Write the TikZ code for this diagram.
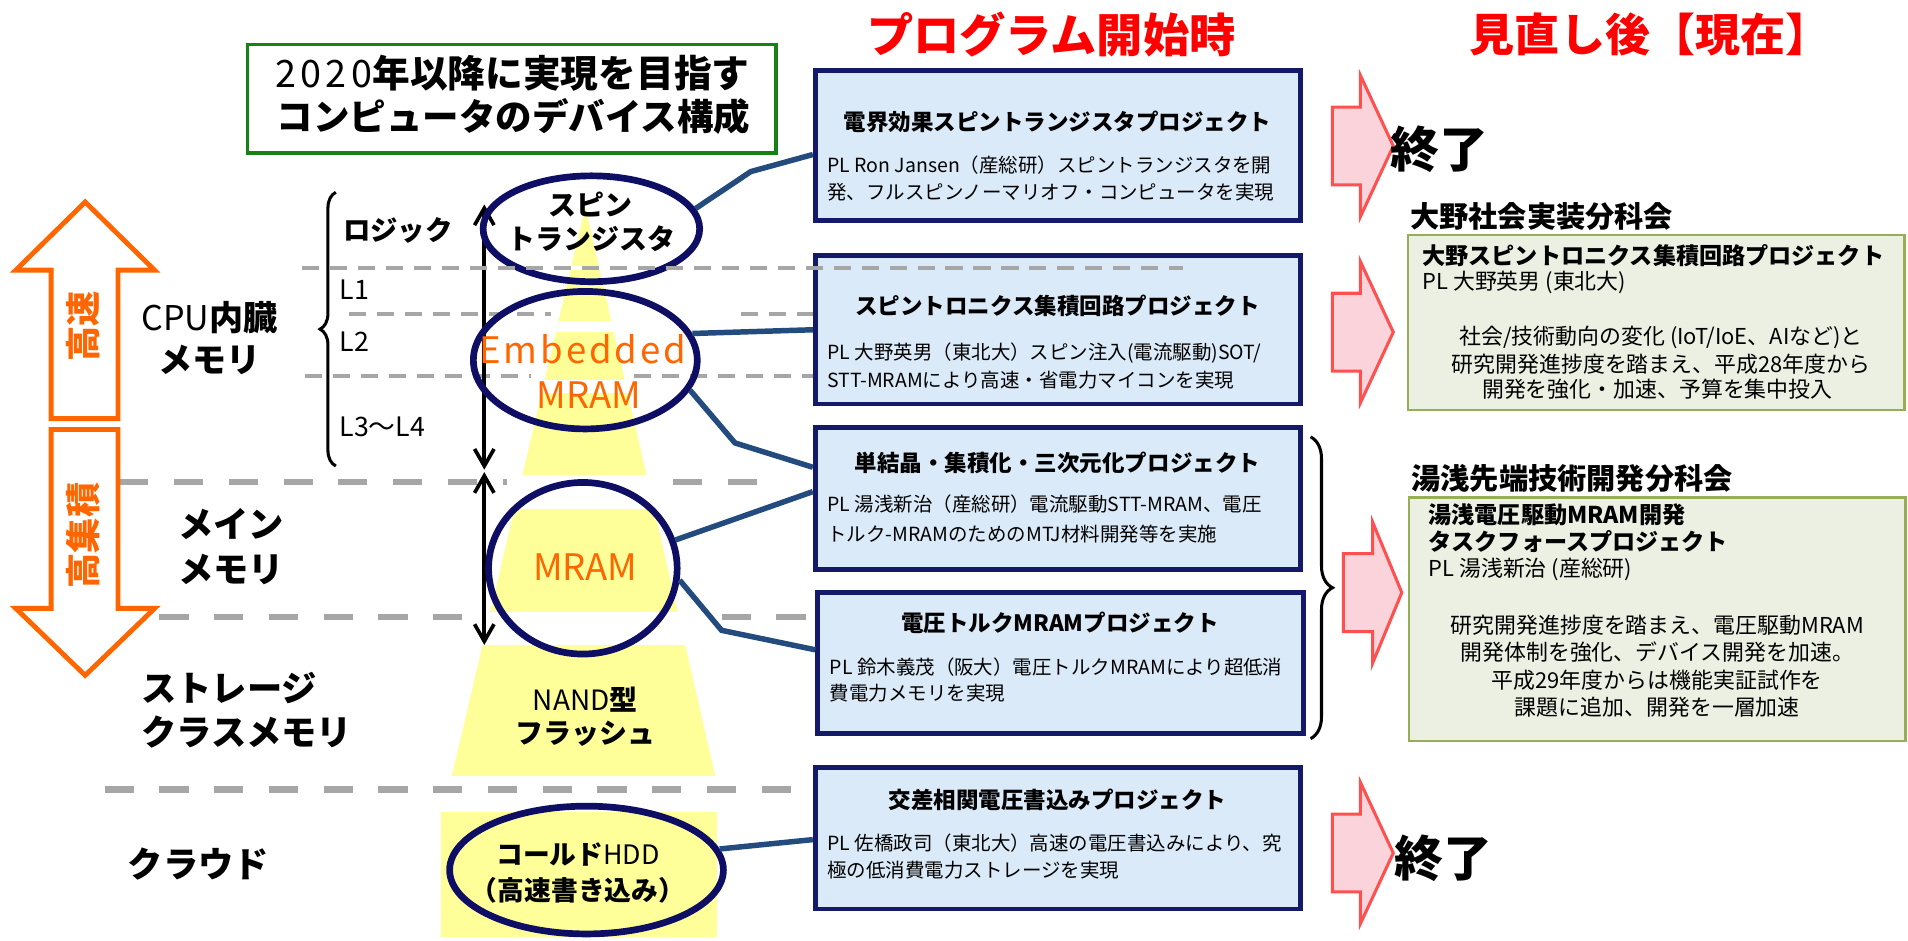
\documentclass[tikz,border=0pt]{standalone}
\usepackage{fontspec}
\setmainfont{Noto Sans CJK JP}
\usetikzlibrary{decorations.pathreplacing,shapes.geometric,arrows.meta}
\definecolor{navy}{RGB}{14,14,100}
\definecolor{boxline}{RGB}{20,25,105}
\definecolor{boxfill}{RGB}{218,234,248}
\definecolor{connc}{RGB}{35,75,125}
\definecolor{dgray}{RGB}{166,166,166}
\definecolor{orng}{RGB}{255,102,0}
\definecolor{yel}{RGB}{255,255,153}
\definecolor{pinkf}{RGB}{250,212,218}
\definecolor{pinkl}{RGB}{255,80,80}
\definecolor{gfill}{RGB}{236,240,226}
\definecolor{gline}{RGB}{150,175,85}
\definecolor{gbox}{RGB}{20,130,20}
\newcommand\myfz[1]{\fontsize{#1pt}{#1pt}\selectfont}
\begin{document}
\begin{tikzpicture}[x=1pt,y=-1pt,
 txt/.style={inner sep=0pt, outer sep=0pt},
 pbox/.style={draw=boxline, line width=4pt, fill=boxfill, minimum width=399pt, inner sep=0pt},
 gbx/.style={draw=gline, line width=2pt, fill=gfill, inner sep=0pt, minimum width=408pt},
 ell/.style={ellipse, draw=navy, line width=5.5pt, inner sep=0pt},
 conn/.style={draw=connc, line width=4.5pt},
 dashup/.style={draw=dgray, line width=3pt, dash pattern=on 14pt off 9pt},
 dashlo/.style={draw=dgray, line width=5.5pt, dash pattern=on 24pt off 21pt},
 orarr/.style={draw=orng, line width=4pt, fill=white, line join=miter},
 pkarr/.style={draw=pinkl, line width=2.5pt, fill=pinkf, line join=miter},
 dbl/.style={line width=3pt, {Straight Barb[length=14pt,width=16pt]}-{Straight Barb[length=14pt,width=16pt]}},
 ttl/.style={txt, font=\myfz{18.5}\bfseries},
 bdy/.style={txt, anchor=west, font=\myfz{16}},
 rbd/.style={txt, font=\myfz{18}},
 lab/.style={txt, font=\myfz{29}\bfseries},
]
\fill[white] (0,0) rectangle (1568,773);
\useasboundingbox (0,0) rectangle (1568,773);

% headings
\node[txt, text=red, font=\myfz{38}\bfseries] (h1) at (864,28) {プログラム開始時};
\node[txt, text=red, font=\myfz{37}\bfseries] (h2) at (1356,28) {見直し後【現在】};

% title box
\node[draw=gbox, line width=3pt, fill=white, minimum width=434pt, minimum height=89pt, inner sep=0pt] (gb) at (420.5,81) {};
\node[txt, font=\myfz{31}\bfseries] (gt1) at (421,60) {{\addfontfeatures{LetterSpace=12}\mdseries 2020}年以降に実現を目指す};
\node[txt, font=\myfz{30}\bfseries] (gt2) at (422,96) {コンピュータのデバイス構成};

% yellow pyramid
\begin{scope}
\clip (481,170) -- (371,639) -- (588,639) -- cycle;
\fill[yel] (300,170) rectangle (700,219);
\fill[yel] (300,222) rectangle (700,264);
\fill[yel] (300,273) rectangle (700,312);
\fill[yel] (300,323) rectangle (700,390);
\fill[yel] (300,418) rectangle (700,503);
\fill[yel] (300,530) rectangle (700,638);
\end{scope}
\fill[yel] (362,667) rectangle (589,770);

% dashed level lines
\draw[dashup] (287,258) -- (453,258);
\draw[dashup] (609,258) -- (668,258);
\draw[dashup] (251,309) -- (436,309);
\draw[dashup] (521,309) -- (668,309);
\draw[dashlo] (98,396) -- (417,396);
\draw[dashlo] (553,396) -- (628,396);
\draw[dashlo] (86,507) -- (387,507);
\draw[dashlo] (593,507) -- (668,507);
\draw[dashlo] (86,649) -- (668,649);

% orange arrows
\draw[orarr] (70,166) -- (127,222) -- (97,222) -- (97,344) -- (42,344) -- (42,222) -- (13,222) -- cycle;
\draw[orarr] (42,353) -- (97,353) -- (97,500) -- (127,500) -- (70,555) -- (13,500) -- (42,500) -- cycle;
\node[txt, rotate=90, text=orng, font=\myfz{29}\bfseries] (hs) at (68,268) {高速};
\node[txt, rotate=90, text=orng, font=\myfz{29}\bfseries] (hk) at (68,440) {高集積};

% left labels
\node[lab, font=\myfz{28}] (cpu) at (172,261) {CPU\textbf{内臓}};
\node[lab, font=\myfz{28}\bfseries] (mem1) at (172,296) {メモリ};
\node[lab] (main1) at (190,431) {メイン};
\node[lab] (main2) at (190,468) {メモリ};
\node[lab, anchor=west] (st1) at (116,565) {ストレージ};
\node[lab, anchor=west] (st2) at (116,602) {クラスメモリ};
\node[lab] (cl) at (163,710) {クラウド};

\node[txt, font=\myfz{22.5}\bfseries] (logic) at (327,189) {ロジック};
\node[txt, anchor=west, font=\myfz{22}] (l1) at (279,238) {L1};
\node[txt, anchor=west, font=\myfz{22}] (l2) at (279,281) {L2};
\node[txt, anchor=west, font=\myfz{22}] (l34) at (279,351) {L3～L4};
\coordinate (lb1) at (276,383);
\coordinate (lb2) at (276,158);
\draw[line width=2.5pt, decorate, decoration={brace, amplitude=13pt}] (lb1) -- (lb2);

% double arrows
\coordinate (da1) at (398,168);
\coordinate (da2) at (398,386);
\coordinate (da3) at (398,388);
\coordinate (da4) at (398,530);
\draw[dbl] (da1) -- (da2);
\draw[dbl] (da3) -- (da4);

% ellipses
\node[ell, minimum width=178pt, minimum height=87pt] (e1) at (486,188) {};
\node[ell, minimum width=184pt, minimum height=113pt] (e2) at (481,296) {};
\node[ell, minimum width=155pt, minimum height=141pt] (e3) at (479,467) {};
\node[ell, minimum width=225pt, minimum height=105pt] (e4) at (482,715) {};

\node[txt, font=\myfz{23}\bfseries] (t1a) at (485,168) {スピン};
\node[txt, font=\myfz{23}\bfseries] (t1b) at (486,196) {トランジスタ};
\node[txt, text=orng, font=\myfz{30}] (t2a) at (479,287) {{\addfontfeatures{LetterSpace=8}Embedded}};
\node[txt, text=orng, font=\myfz{30}] (t2b) at (484,325) {MRAM};
\node[txt, text=orng, font=\myfz{30}] (t3) at (481,466) {MRAM};
\node[txt, font=\myfz{23}] (t4a) at (481,575) {NAND\textbf{型}};
\node[txt, font=\myfz{23}\bfseries] (t4b) at (481,603) {フラッシュ};
\node[txt, font=\myfz{22}\bfseries] (t5a) at (475,702) {コールド\mdseries HDD};
\node[txt, font=\myfz{22}\bfseries] (t5b) at (475,732) {（高速書き込み）};

% project boxes
\node[pbox, minimum height=123pt] (b1) at (869.5,119.5) {};
\node[pbox, minimum height=122pt] (b2) at (869.5,271) {};
\node[pbox, minimum height=117pt] (b3) at (869.5,409.5) {};
\node[pbox, minimum height=116pt] (b4) at (871.5,545) {};
\node[pbox, minimum height=116pt] (b5) at (869.5,689) {};
\draw[dashup] (248,220) -- (972,220);

\node[ttl] (b1t) at (869,100) {電界効果スピントランジスタプロジェクト};
\node[bdy] (b1a) at (680,136) {PL Ron Jansen（産総研）スピントランジスタを開};
\node[bdy] (b1b) at (680,158) {発、フルスピンノーマリオフ・コンピュータを実現};
\node[ttl] (b2t) at (869,251) {スピントロニクス集積回路プロジェクト};
\node[bdy] (b2a) at (680,290) {PL 大野英男（東北大）スピン注入(電流駆動)SOT/};
\node[bdy] (b2b) at (680,312) {STT-MRAMにより高速・省電力マイコンを実現};
\node[ttl] (b3t) at (869,380) {単結晶・集積化・三次元化プロジェクト};
\node[bdy] (b3a) at (680,414) {PL 湯浅新治（産総研）電流駆動STT-MRAM、電圧};
\node[bdy] (b3b) at (680,439) {トルク-MRAMのためのMTJ材料開発等を実施};
\node[ttl] (b4t) at (871,512) {電圧トルクMRAMプロジェクト};
\node[bdy] (b4a) at (682,548) {PL 鈴木義茂（阪大）電圧トルクMRAMにより超低消};
\node[bdy] (b4b) at (682,570) {費電力メモリを実現};
\node[ttl] (b5t) at (869,657) {交差相関電圧書込みプロジェクト};
\node[bdy] (b5a) at (680,693) {PL 佐橋政司（東北大）高速の電圧書込みにより、究};
\node[bdy] (b5b) at (680,715) {極の低消費電力ストレージを実現};

% connectors
\coordinate (k1) at (617,141); \coordinate (k1e) at (0,127);
\draw[conn] (e1.11) -- (k1) -- (b1.west |- k1e);
\coordinate (k2e) at (0,271);
\draw[conn] (e2.14) -- (b2.west |- k2e);
\coordinate (k3) at (604,364); \coordinate (k3e) at (0,384);
\draw[conn] (e2.-16) -- (k3) -- (b3.west |- k3e);
\coordinate (k4e) at (0,404);
\draw[conn] (e3.17) -- (b3.west |- k4e);
\coordinate (k5) at (593,518); \coordinate (k5e) at (0,534);
\draw[conn] (e3.-7) -- (k5) -- (b4.west |- k5e);
\coordinate (k6e) at (0,690);
\draw[conn] (e4.9) -- (b5.west |- k6e);

% right brace
\coordinate (rb1) at (1077,359);
\coordinate (rb2) at (1077,607);
\draw[line width=2.5pt, decorate, decoration={brace, amplitude=18pt}] (rb1) -- (rb2);

% pink arrows
\draw[pkarr] (1095,88)--(1118,88)--(1118,62)--(1145,120)--(1118,178)--(1118,152)--(1095,152)--cycle;
\draw[pkarr] (1095,241)--(1118,241)--(1118,215)--(1145,273)--(1118,331)--(1118,305)--(1095,305)--cycle;
\draw[pkarr] (1104,455)--(1128,455)--(1128,429)--(1152,487)--(1128,545)--(1128,519)--(1104,519)--cycle;
\draw[pkarr] (1095,669)--(1118,669)--(1118,643)--(1145,701)--(1118,759)--(1118,733)--(1095,733)--cycle;
\node[txt, font=\myfz{40}\bfseries] (end1) at (1183,123) {終了};
\node[txt, font=\myfz{40}\bfseries] (end2) at (1186,705) {終了};

% right boxes
\node[txt, anchor=west, font=\myfz{24}\bfseries] (rh1) at (1159,178) {大野社会実装分科会};
\node[gbx, minimum height=144pt] (g1) at (1361,265) {};
\node[txt, anchor=west, font=\myfz{19}\bfseries] (g1t) at (1169,210) {大野スピントロニクス集積回路プロジェクト};
\node[rbd, anchor=west] (g1p) at (1169,232) {PL 大野英男 (東北大)};
\node[rbd] (g1a) at (1365,277) {社会/技術動向の変化 (IoT/IoE、AIなど)と};
\node[rbd] (g1b) at (1365,299) {研究開発進捗度を踏まえ、平成28年度から};
\node[rbd] (g1c) at (1362,320) {開発を強化・加速、予算を集中投入};

\node[txt, anchor=west, font=\myfz{24}\bfseries] (rh2) at (1160,393) {湯浅先端技術開発分科会};
\node[gbx, minimum height=200pt] (g2) at (1362,509) {};
\node[txt, anchor=west, font=\myfz{19}\bfseries] (g2t) at (1174,423) {湯浅電圧駆動MRAM開発};
\node[txt, anchor=west, font=\myfz{19}\bfseries] (g2u) at (1174,445) {タスクフォースプロジェクト};
\node[rbd, anchor=west] (g2p) at (1174,468) {PL 湯浅新治 (産総研)};
\node[rbd] (g2a) at (1362,514) {研究開発進捗度を踏まえ、電圧駆動MRAM};
\node[rbd] (g2b) at (1362,536) {開発体制を強化、デバイス開発を加速。};
\node[rbd] (g2c) at (1362,559) {平成29年度からは機能実証試作を};
\node[rbd] (g2d) at (1362,581) {課題に追加、開発を一層加速};
\end{tikzpicture}
\end{document}
